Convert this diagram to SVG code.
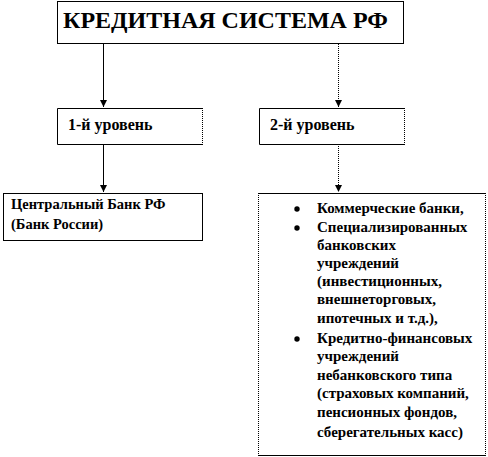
<svg xmlns="http://www.w3.org/2000/svg" width="488" height="457" viewBox="0 0 488 457" font-family="Liberation Serif, Tinos, Times New Roman, serif">
<defs>
<marker id="ah" markerWidth="8" markerHeight="8" refX="7" refY="4" orient="auto" markerUnits="userSpaceOnUse">
<path d="M0,0.5 L7,4 L0,7.5 Z" fill="#000"/>
</marker>
</defs>
<rect width="488" height="457" fill="#fff"/>
<g id="connectors" stroke="#000" fill="none">
<line x1="103.5" y1="44" x2="103.5" y2="107" marker-end="url(#ah)"/>
<line x1="338.5" y1="44" x2="338.5" y2="107" stroke-dasharray="1 1" marker-end="url(#ah)"/>
<line x1="103.5" y1="144" x2="103.5" y2="192" marker-end="url(#ah)"/>
<line x1="338.5" y1="144" x2="338.5" y2="192" stroke-dasharray="1 1" marker-end="url(#ah)"/>
</g>
<g id="title">
<rect x="57.5" y="1.5" width="346" height="42" fill="#fff" stroke="#000"/>
<text x="63" y="28" font-family="Liberation Serif, Tinos, Times New Roman, serif" font-weight="bold" font-size="24">КРЕДИТНАЯ СИСТЕМА РФ</text>
</g>
<g id="level1">
<path d="M202.5,108.5 H57.5 V144.5 H202.5" fill="none" stroke="#000"/>
<line x1="202.5" y1="108" x2="202.5" y2="145" stroke="#000" stroke-dasharray="1 1"/>
<text x="68" y="130" font-family="Liberation Serif, Tinos, Times New Roman, serif" font-weight="bold" font-size="16">1-й уровень</text>
</g>
<g id="level2">
<path d="M404.5,108.5 H259.5 V144.5 H404.5" fill="none" stroke="#000"/>
<line x1="404.5" y1="108" x2="404.5" y2="145" stroke="#000" stroke-dasharray="1 1"/>
<text x="270" y="130" font-family="Liberation Serif, Tinos, Times New Roman, serif" font-weight="bold" font-size="16">2-й уровень</text>
</g>
<g id="central-bank">
<rect x="3.5" y="193.5" width="199" height="47" fill="none" stroke="#000"/>
<text x="11" y="209" font-family="Liberation Serif, Tinos, Times New Roman, serif" font-weight="bold" font-size="14.5">Центральный Банк РФ</text>
<text x="11" y="229" font-family="Liberation Serif, Tinos, Times New Roman, serif" font-weight="bold" font-size="14.5">(Банк России)</text>
</g>
<g id="institutions" font-family="Liberation Serif, Tinos, Times New Roman, serif" font-weight="bold" font-size="15">
<line x1="258" y1="193.5" x2="486" y2="193.5" stroke="#000"/>
<line x1="258" y1="455.5" x2="486" y2="455.5" stroke="#000"/>
<line x1="258.5" y1="193" x2="258.5" y2="456" stroke="#000" stroke-dasharray="1 1"/>
<line x1="485.5" y1="193" x2="485.5" y2="456" stroke="#000" stroke-dasharray="1 1"/>
<circle cx="297" cy="209" r="2.7"/>
<circle cx="297" cy="228" r="2.7"/>
<circle cx="297" cy="339" r="2.7"/>
<text x="317" y="213" font-family="Liberation Serif, Tinos, Times New Roman, serif">Коммерческие банки,</text>
<text x="317" y="232" font-family="Liberation Serif, Tinos, Times New Roman, serif">Специализированных</text>
<text x="317" y="250" font-family="Liberation Serif, Tinos, Times New Roman, serif">банковских</text>
<text x="317" y="268" font-family="Liberation Serif, Tinos, Times New Roman, serif">учреждений</text>
<text x="317" y="286" font-family="Liberation Serif, Tinos, Times New Roman, serif">(инвестиционных,</text>
<text x="317" y="304" font-family="Liberation Serif, Tinos, Times New Roman, serif">внешнеторговых,</text>
<text x="317" y="323" font-family="Liberation Serif, Tinos, Times New Roman, serif">ипотечных и т.д.),</text>
<text x="317" y="343" font-family="Liberation Serif, Tinos, Times New Roman, serif">Кредитно-финансовых</text>
<text x="317" y="361" font-family="Liberation Serif, Tinos, Times New Roman, serif">учреждений</text>
<text x="317" y="380" font-family="Liberation Serif, Tinos, Times New Roman, serif">небанковского типа</text>
<text x="317" y="398" font-family="Liberation Serif, Tinos, Times New Roman, serif">(страховых компаний,</text>
<text x="317" y="417" font-family="Liberation Serif, Tinos, Times New Roman, serif">пенсионных фондов,</text>
<text x="317" y="437" font-family="Liberation Serif, Tinos, Times New Roman, serif">сберегательных касс)</text>
</g>
</svg>
